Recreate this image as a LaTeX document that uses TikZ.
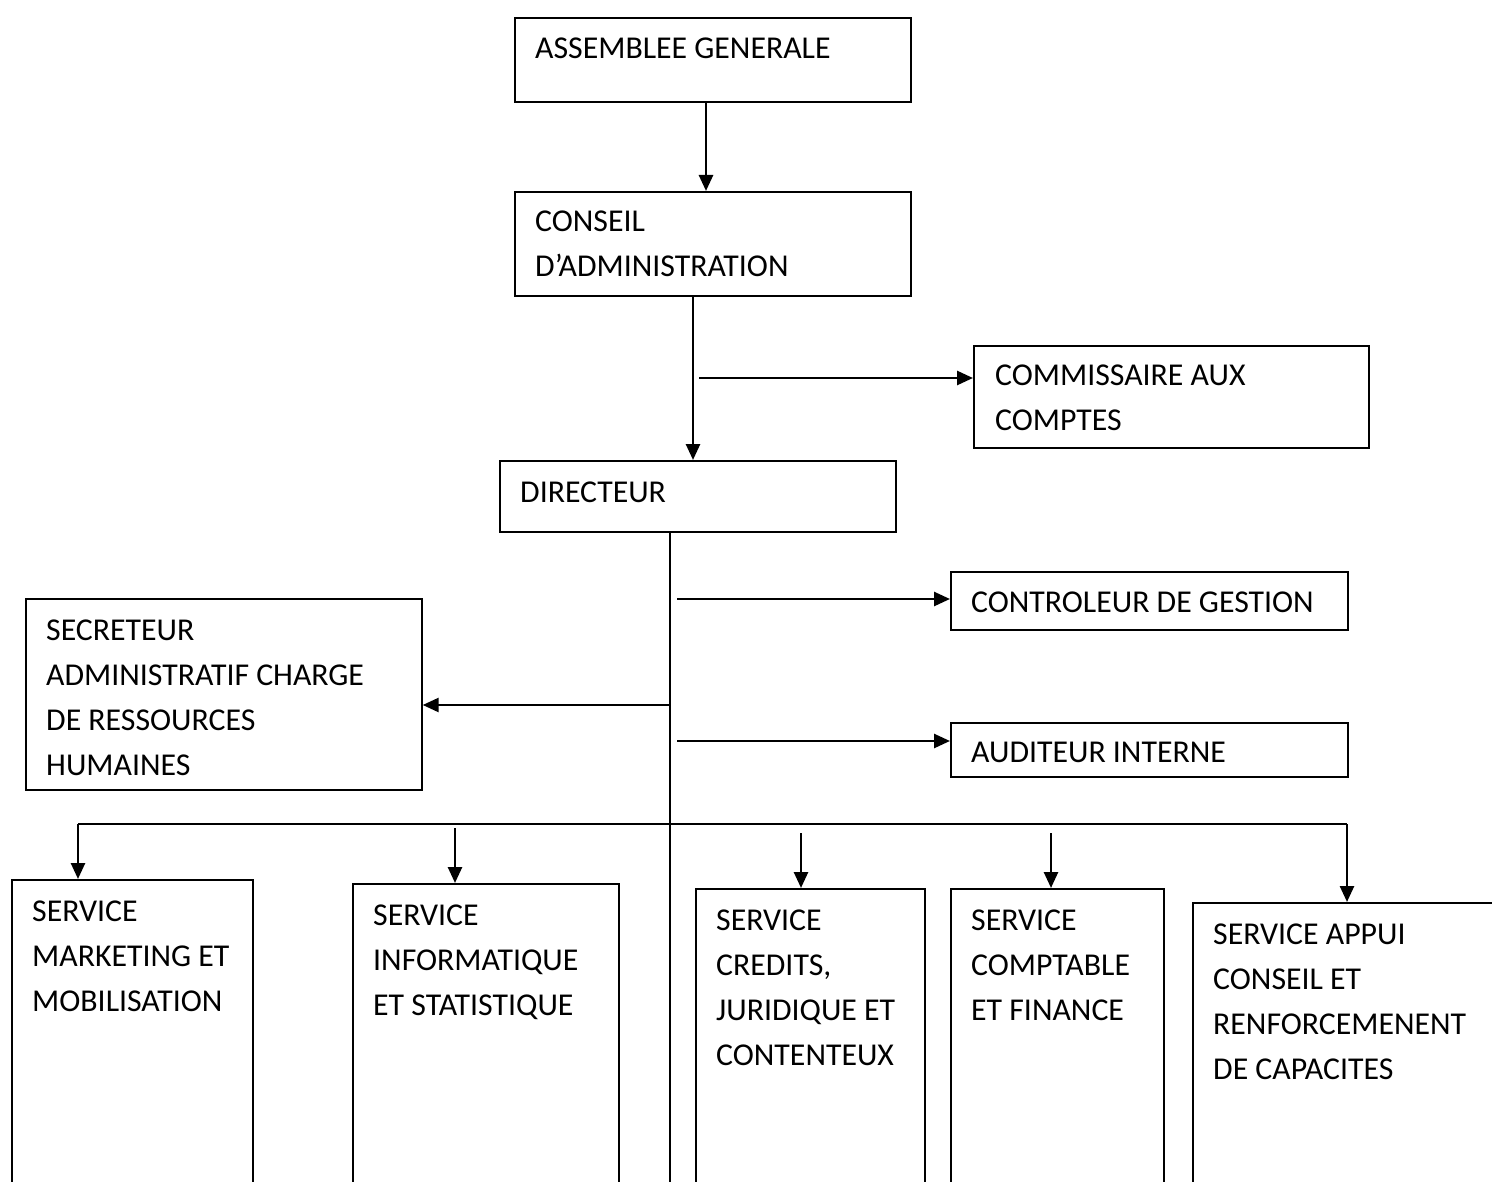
\documentclass[tikz,border=0pt]{standalone}
\usepackage{fontspec}
\setmainfont{Carlito}
\usetikzlibrary{arrows.meta}
\begin{document}
\begin{tikzpicture}[x=1pt,y=-1pt,
  box/.style={draw, line width=1.7pt, rectangle, inner sep=0pt, anchor=north west},
  txt/.style={anchor=base west, inner sep=0pt, align=left, font=\fontsize{31.8}{45}\selectfont},
  conn/.style={line width=2.6pt, -{Triangle[length=16pt,width=14pt]}},
  plain/.style={line width=2.6pt}]
\useasboundingbox (0,0) rectangle (1492,1182);
\clip (0,0) rectangle (1492,1182);
% boxes
\node[box, minimum width=396pt, minimum height=84pt]  (ag)  at (514,17)  {};
\node[box, minimum width=396pt, minimum height=104pt] (ca)  at (514,191) {};
\node[box, minimum width=395pt, minimum height=102pt] (cac) at (973,345) {};
\node[box, minimum width=396pt, minimum height=71pt]  (dir) at (499,460) {};
\node[box, minimum width=397pt, minimum height=58pt]  (cdg) at (950,571) {};
\node[box, minimum width=396pt, minimum height=191pt] (sec) at (25,598)  {};
\node[box, minimum width=397pt, minimum height=54pt]  (aud) at (950,722) {};
\node[box, minimum width=241pt, minimum height=400pt] (s1)  at (11,879)  {};
\node[box, minimum width=266pt, minimum height=400pt] (s2)  at (352,883) {};
\node[box, minimum width=229pt, minimum height=400pt] (s3)  at (695,888) {};
\node[box, minimum width=213pt, minimum height=400pt] (s4)  at (950,888) {};
\node[box, minimum width=400pt, minimum height=400pt] (s5)  at (1192,902) {};
% texts (anchor = baseline of the last line)
\node[txt] (tag)  at (535,59)   {ASSEMBLEE GENERALE};
\node[txt] (tca)  at (535,277)  {CONSEIL\\D’ADMINISTRATION};
\node[txt] (tcac) at (995,430)  {COMMISSAIRE AUX\\COMPTES};
\node[txt] (tdir) at (520,502)  {DIRECTEUR};
\node[txt] (tcdg) at (971,612)  {CONTROLEUR DE GESTION};
\node[txt] (tsec) at (46,775)   {SECRETEUR\\ADMINISTRATIF CHARGE\\DE RESSOURCES\\HUMAINES};
\node[txt] (taud) at (971,762)  {AUDITEUR INTERNE};
\node[txt] (ts1)  at (32,1011)  {SERVICE\\MARKETING ET\\MOBILISATION};
\node[txt] (ts2)  at (373,1015) {SERVICE\\INFORMATIQUE\\ET STATISTIQUE};
\node[txt] (ts3)  at (716,1065) {SERVICE\\CREDITS,\\JURIDIQUE ET\\CONTENTEUX};
\node[txt] (ts4)  at (971,1020) {SERVICE\\COMPTABLE\\ET FINANCE};
\node[txt] (ts5)  at (1213,1079) {SERVICE APPUI\\CONSEIL ET\\RENFORCEMENENT\\DE CAPACITES};
% coordinates
\coordinate (x1) at (706,0);
\coordinate (x2) at (693,0);
\coordinate (b1) at (699,378);
\coordinate (sp) at (670,1200);
\coordinate (b2) at (677,599);
\coordinate (b3) at (670,705);
\coordinate (b4) at (677,741);
\coordinate (bl) at (78,824);
\coordinate (br) at (1347,824);
\coordinate (a2) at (455,828);
\coordinate (a3) at (801,833);
\coordinate (a4) at (1051,833);
% connectors
\draw[conn] (ag.south -| x1) -- (ca.north -| x1);
\draw[conn] (ca.south -| x2) -- (dir.north -| x2);
\draw[conn] (b1) -- (cac.west |- b1);
\draw[plain] (dir.south -| sp) -- (sp);
\draw[conn] (b2) -- (cdg.west |- b2);
\draw[conn] (b3) -- (sec.east |- b3);
\draw[conn] (b4) -- (aud.west |- b4);
\draw[plain] (bl) -- (br);
\draw[conn] (bl) -- (s1.north -| bl);
\draw[conn] (a2) -- (s2.north -| a2);
\draw[conn] (a3) -- (s3.north -| a3);
\draw[conn] (a4) -- (s4.north -| a4);
\draw[conn] (br) -- (s5.north -| br);
\end{tikzpicture}
\end{document}
